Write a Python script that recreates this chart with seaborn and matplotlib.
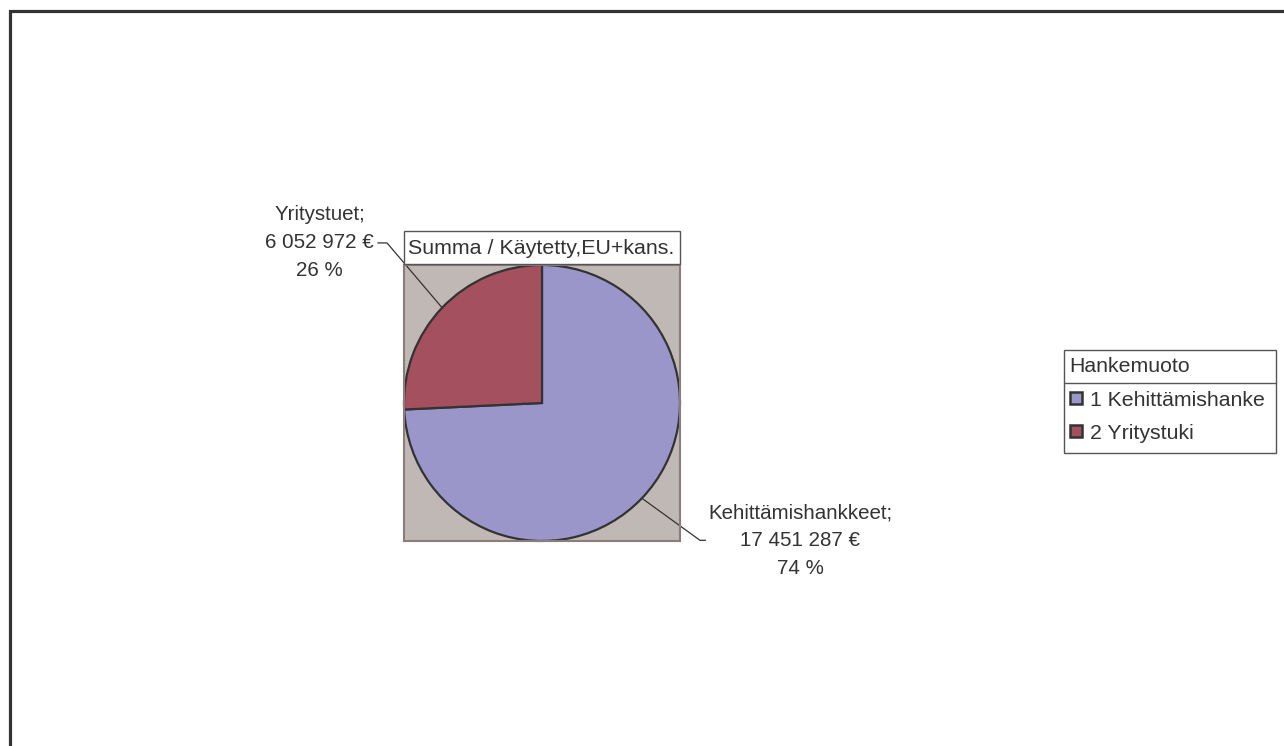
import numpy as np
import matplotlib
matplotlib.use("Agg")
import matplotlib.pyplot as plt
from matplotlib.patches import Rectangle
from matplotlib.lines import Line2D
import seaborn as sns

# data
categories = ["Kehittämishankkeet", "Yritystuet"]
legend_labels = ["1 Kehittämishanke", "2 Yritystuki"]
amounts = [17451287, 6052972]
amount_labels = ["17 451 287 €", "6 052 972 €"]
title = "Summa / Käytetty,EU+kans."
legend_title = "Hankemuoto"

sns.set_style("white")
plt.rcParams["font.family"] = ["Liberation Sans", "DejaVu Sans"]
plt.rcParams["font.size"] = 14.8
txt = "#333333"
edge = "#333333"
palette = sns.color_palette(["#9b96ca", "#a4505f"])

W, H = 1284, 746
fig = plt.figure(figsize=(W / 100, H / 100), dpi=100)

def fx(px):
    return px / W

def fy(py):
    return 1 - py / H

# outer chart border (cut off at right/bottom like the source)
fig.patches.append(Rectangle((fx(10.5), -0.1), 1.2, fy(11.5) + 0.1,
                             transform=fig.transFigure, fill=False,
                             edgecolor="#333333", linewidth=2.3))

# plot area
ax = fig.add_axes([fx(404), fy(542), fx(680) - fx(404), fy(264) - fy(542)])
wedges, _ = ax.pie(amounts, colors=palette, startangle=90, counterclock=False,
                   radius=1.0, frame=True,
                   wedgeprops=dict(edgecolor=edge, linewidth=1.6))
ax.set_facecolor("#c0b8b4")
for s in ax.spines.values():
    s.set_visible(True)
    s.set_color("#8c7c7c")
    s.set_linewidth(1.5)
ax.set_xticks([])
ax.set_yticks([])
ax.set_xlim(-1, 1)
ax.set_ylim(-1, 1)
ax.set_aspect("equal")

total = sum(amounts)
pcts = [round(100 * a / total) for a in amounts]

# label placement (data coords) and leader line elbows
label_pos = [(1.87, -1.0), (-1.61, 1.16)]
elbows = [(1.145, -0.995), (-1.123, 1.16)]
ends = [(1.185, -0.995), (-1.19, 1.16)]

for w, cat, amt, p, lp, el, en in zip(wedges, categories, amount_labels, pcts,
                                      label_pos, elbows, ends):
    ang = np.deg2rad((w.theta1 + w.theta2) / 2)
    x0, y0 = np.cos(ang), np.sin(ang)
    ax.plot([x0, el[0], en[0]], [y0, el[1], en[1]], color="#333333",
            linewidth=0.9, clip_on=False)
    ax.text(lp[0], lp[1], f"{cat};\n{amt}\n{p} %", ha="center", va="center",
            color=txt, linespacing=1.6, clip_on=False)

# title box
fig.patches.append(Rectangle((fx(404), fy(264)), fx(680) - fx(404), fy(231) - fy(264),
                             transform=fig.transFigure, facecolor="white",
                             edgecolor="#555555", linewidth=1.0))
fig.text(fx(408), fy(248), title, ha="left", va="center", color=txt, fontsize=15.4)

# legend box with title separator
fig.patches.append(Rectangle((fx(1063.5), fy(452.5)), fx(1276) - fx(1063.5),
                             fy(349.5) - fy(452.5), transform=fig.transFigure,
                             facecolor="white", edgecolor="#555555", linewidth=1.0))
fig.add_artist(Line2D([fx(1063.5), fx(1276)], [fy(383.5), fy(383.5)],
                      transform=fig.transFigure, color="#555555", linewidth=1.0))

handles = [Line2D([], [], marker="s", linestyle="none", markersize=9,
                  markerfacecolor=c, markeredgecolor=edge, markeredgewidth=1.8)
           for c in palette]
leg = fig.legend(handles, legend_labels, title=legend_title, loc="upper left",
                 bbox_to_anchor=(fx(1063), fy(351)), frameon=False,
                 alignment="left", handlelength=0.6, handletextpad=0.39,
                 borderpad=0.3, labelspacing=0.67, borderaxespad=0,
                 title_fontsize=15.3, fontsize=15.3, labelcolor=txt)
leg.get_title().set_color(txt)

fig.savefig("out.png", dpi=100)
